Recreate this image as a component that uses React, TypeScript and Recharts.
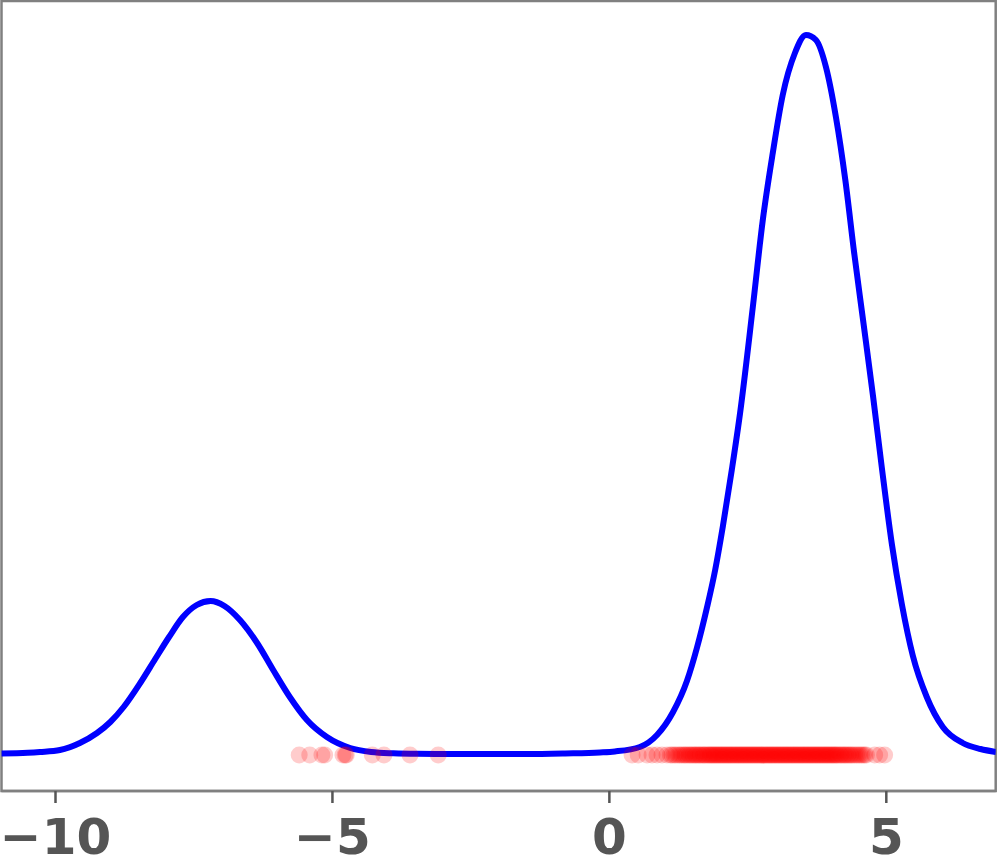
import React from "react";
import { ComposedChart, Line, Scatter, XAxis, YAxis, ReferenceArea } from "recharts";

// Density curve
const curveX = [
  -10.98, -10.5, -10.28, -9.92, -9.56, -9.25, -9.01, -8.77, -8.47, -8.2, -7.95, -7.7, -7.45,
  -7.2, -6.95, -6.67, -6.36, -6.07, -5.77, -5.46, -5.1, -4.68, -4.3, -3.9, -3.47, -2.5,
  -1.5, -0.8, -0.17, 0.1, 0.55, 0.86, 1.15, 1.4, 1.58, 1.76, 1.91, 2.05, 2.21, 2.36, 2.59,
  2.77, 2.95, 3.13, 3.35, 3.55, 3.73, 3.91, 4.09, 4.26, 4.42, 4.58, 4.76, 4.92, 5.1, 5.28,
  5.48, 5.73, 6.02, 6.38, 6.7, 6.98,
];
const curveY = [
  0.00025, 0.0006, 0.001, 0.002, 0.0055, 0.0105, 0.016, 0.0235, 0.0355, 0.0475, 0.0585,
  0.0685, 0.0745, 0.0765, 0.074, 0.067, 0.0555, 0.042, 0.0285, 0.017, 0.0085, 0.003,
  0.001, 0.00035, 0.0001, 0, 0, 0.0003, 0.0008, 0.0013, 0.0035, 0.0095, 0.021, 0.0365,
  0.053, 0.073, 0.092, 0.114, 0.142, 0.1705, 0.2235, 0.267, 0.3005, 0.3295, 0.3505,
  0.3595, 0.357, 0.3435, 0.3185, 0.287, 0.2505, 0.217, 0.179, 0.143, 0.105, 0.075,
  0.049, 0.0285, 0.0135, 0.0055, 0.0025, 0.001,
];

// Sample positions (red dots)
const sampleX = [
  -5.6, -5.41, -5.19, -5.14, -4.81, -4.77, -4.75, -4.28, -4.07, -3.6, -3.09,
  0.41, 0.52, 0.68, 0.77, 0.86, 0.95, 1.04, 1.1, 1.13, 1.17, 1.2, 1.24, 1.27, 1.3, 1.33,
  1.36, 1.38, 1.41, 1.44, 1.46, 1.49, 1.51, 1.54, 1.56, 1.58, 1.61, 1.63, 1.65, 1.68, 1.7,
  1.72, 1.74, 1.77, 1.79, 1.81, 1.83, 1.85, 1.87, 1.89, 1.91, 1.93, 1.95, 1.97, 1.99, 2.01,
  2.03, 2.05, 2.07, 2.09, 2.11, 2.13, 2.15, 2.17, 2.19, 2.21, 2.23, 2.25, 2.27, 2.29, 2.31,
  2.33, 2.35, 2.37, 2.39, 2.41, 2.43, 2.45, 2.47, 2.49, 2.51, 2.53, 2.55, 2.57, 2.59, 2.61,
  2.63, 2.65, 2.67, 2.69, 2.71, 2.73, 2.75, 2.77, 2.79, 2.81, 2.83, 2.85, 2.87, 2.89, 2.91,
  2.93, 2.95, 2.97, 2.99, 3.01, 3.03, 3.05, 3.07, 3.09, 3.11, 3.13, 3.15, 3.17, 3.19, 3.21,
  3.23, 3.25, 3.27, 3.29, 3.31, 3.33, 3.35, 3.37, 3.39, 3.41, 3.43, 3.45, 3.47, 3.49, 3.51,
  3.53, 3.55, 3.57, 3.59, 3.61, 3.63, 3.65, 3.67, 3.69, 3.71, 3.73, 3.75, 3.77, 3.79, 3.81,
  3.83, 3.85, 3.87, 3.89, 3.91, 3.93, 3.95, 3.97, 3.99, 4.01, 4.03, 4.05, 4.07, 4.09, 4.11,
  4.13, 4.16, 4.18, 4.2, 4.23, 4.25, 4.27, 4.3, 4.32, 4.35, 4.37, 4.4, 4.43, 4.46, 4.49,
  4.52, 4.55, 4.58, 4.61, 4.64, 4.79, 4.88, 4.97,
];
const sampleLevel = -0.0005;

const xTicks = [-10, -5, 0, 5];
const xDomain = [-10.975, 6.975];
const yDomain = [-0.0185, 0.3765];

const curveData = curveX.map((x, i) => ({ x, y: curveY[i] }));
const sampleData = sampleX.map((x) => ({ x, y: sampleLevel }));

const SPINE = "#808080";
const TEXT = "#555555";

const Dot = (props: any) => (
  <circle cx={props.cx} cy={props.cy} r={8.5} fill="#ff0000" fillOpacity={0.2} />
);

export default function App() {
  return (
    <div style={{ position: "absolute", left: 0, top: 0, background: "#fff" }}>
      <ComposedChart
        width={997}
        height={865}
        margin={{ top: 1, right: 1.3, bottom: 0, left: 1.5 }}
      >
        <XAxis
          xAxisId="b"
          type="number"
          dataKey="x"
          domain={xDomain}
          allowDataOverflow
          ticks={xTicks}
          tickFormatter={(v: number) => String(v).replace("-", "\u2212")}
          height={74}
          axisLine={{ stroke: SPINE, strokeWidth: 2.5 }}
          tickLine={{ stroke: TEXT, strokeWidth: 2.5 }}
          tickSize={12}
          tickMargin={15.5}
          tick={{
            fill: TEXT,
            fontSize: 50,
            fontWeight: "bold",
            fontFamily: "DejaVu Sans",
          }}
        />
        <YAxis yAxisId="l" type="number" domain={yDomain} allowDataOverflow hide />
        <ReferenceArea
          xAxisId="b"
          yAxisId="l"
          x1={xDomain[0]}
          x2={xDomain[1]}
          y1={yDomain[0]}
          y2={yDomain[1]}
          fill="none"
          fillOpacity={0}
          stroke={SPINE}
          strokeWidth={2.5}
          ifOverflow="visible"
        />
        <Scatter
          xAxisId="b"
          yAxisId="l"
          data={sampleData}
          dataKey="y"
          shape={Dot}
          isAnimationActive={false}
        />
        <Line
          xAxisId="b"
          yAxisId="l"
          data={curveData}
          dataKey="y"
          type="monotone"
          stroke="#0000ff"
          strokeWidth={6}
          dot={false}
          activeDot={false}
          isAnimationActive={false}
        />
      </ComposedChart>
    </div>
  );
}
